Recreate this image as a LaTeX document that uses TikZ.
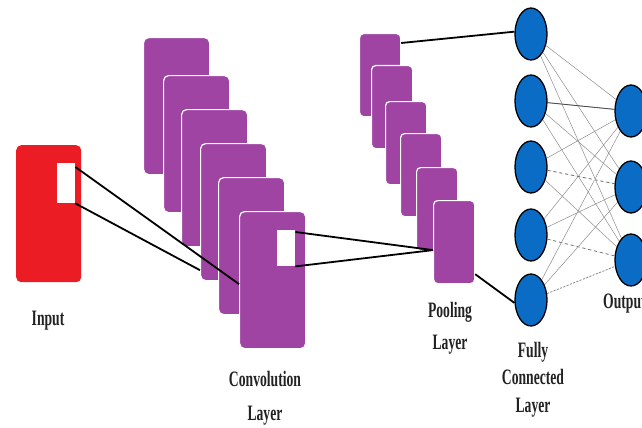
\documentclass[tikz,border=0pt]{standalone}
\usepackage{fontspec}
\setmainfont{Liberation Serif}
\usetikzlibrary{shapes.geometric,calc,backgrounds}
\definecolor{cnnred}{HTML}{EC1C24}
\definecolor{cnnpurple}{HTML}{A044A4}
\definecolor{cnnblue}{HTML}{0A6CC4}
\definecolor{txtgray}{HTML}{222222}
\newcommand\narrowtxt[1]{\scalebox{0.62}[1]{#1}}
\begin{document}
\begin{tikzpicture}[x=1pt,y=-1pt,
  convbox/.style={rectangle, rounded corners=5pt, fill=cnnpurple, draw=white, line width=1.2pt,
    minimum width=66pt, minimum height=137pt, inner sep=0pt, anchor=north west},
  poolbox/.style={rectangle, rounded corners=4pt, fill=cnnpurple, draw=white, line width=1.2pt,
    minimum width=41pt, minimum height=83pt, inner sep=0pt, anchor=north west},
  winbox/.style={rectangle, fill=white, inner sep=0pt, anchor=north west},
  neuron/.style={ellipse, fill=cnnblue, draw=black, line width=1.3pt, minimum width=32pt, minimum height=52pt, inner sep=0pt},
  thick link/.style={draw=black, line width=1.8pt},
  fclink/.style={draw=black!45, line width=0.5pt},
  lbl/.style={font=\fontsize{22}{26}\selectfont\bfseries, text=txtgray, inner sep=0pt, align=center}
]
\useasboundingbox (0,0) rectangle (642,428);

% input
\node[rectangle, rounded corners=5pt, fill=cnnred, minimum width=65pt, minimum height=137pt,
  inner sep=0pt, anchor=north west] (input) at (16,145) {};
\node[winbox, minimum width=18pt, minimum height=40pt] (inwin) at (57,163) {};

% convolution layers
\node[convbox] (conv1) at (143,37) {};
\node[convbox] (conv2) at (163,75) {};
\node[convbox] (conv3) at (181,109) {};
\node[convbox] (conv4) at (200,143) {};
\node[convbox] (conv5) at (218,177) {};
\node[convbox] (conv6) at (239,211) {};
\node[winbox, minimum width=18pt, minimum height=36pt] (convwin) at (277,230) {};

% pooling layers
\node[poolbox] (pool1) at (359,33) {};
\node[poolbox] (pool2) at (371,65) {};
\node[poolbox] (pool3) at (385,101) {};
\node[poolbox] (pool4) at (400,133) {};
\node[poolbox] (pool5) at (416,167) {};
\node[poolbox] (pool6) at (433,200) {};

% neurons
\node[neuron] (fc1) at (531,34) {};
\node[neuron] (fc2) at (531,101) {};
\node[neuron] (fc3) at (531,167) {};
\node[neuron] (fc4) at (531,235) {};
\node[neuron] (fc5) at (531,300) {};
\node[neuron] (out1) at (631,111) {};
\node[neuron] (out2) at (631,187) {};
\node[neuron] (out3) at (631,260) {};

% fully connected links (behind the neurons)
\begin{pgfonlayer}{background}
\foreach \i in {1,...,5}{
  \foreach \j in {1,2,3}{
    \path[fclink] (fc\i) -- (out\j);
  }
}
\path[draw=black!70, line width=0.8pt] (fc2) -- (out1);
\path[draw=white, line width=1pt] (fc3) -- (out2);
\path[draw=black!60, line width=0.7pt, dashed] (fc3) -- (out2);
\path[draw=white, line width=1pt] (fc4) -- (out3);
\path[draw=black!60, line width=0.7pt, dashed] (fc4) -- (out3);
\path[draw=white, line width=1pt] (fc5) -- (out3);
\path[draw=black!55, line width=0.6pt, dash pattern=on 2pt off 1.5pt] (fc5) -- (out3);
\end{pgfonlayer}

% black connectors
\coordinate (c6in) at ([yshift=-4pt]conv6.west);
\coordinate (c4in) at ([yshift=11pt]conv4.south west);
\coordinate (p6in) at ([yshift=-8pt]pool6.west);
\coordinate (p1out) at ([yshift=-10pt]pool1.north east);
\coordinate (p6out) at ([yshift=10pt]pool6.south east);
\draw[thick link] ([yshift=-4pt]inwin.north east) -- (c6in);
\draw[thick link] (inwin.south east) -- (c4in);
\draw[thick link] ([yshift=-2pt]convwin.north east) -- (p6in);
\draw[thick link] (convwin.south east) -- (p6in);
\draw[thick link] (p1out) -- (fc1.172);
\draw[thick link] (p6out) -- (fc5.190);

% labels
\node[lbl, anchor=base] (linput) at (48,325) {\narrowtxt{Input}};
\node[lbl, anchor=north, font=\fontsize{22}{34}\selectfont\bfseries] (lconv) at (265,371)
  {\narrowtxt{Convolution}\\\narrowtxt{Layer}};
\node[lbl, anchor=north, font=\fontsize{22}{32}\selectfont\bfseries] (lpool) at (450,302)
  {\narrowtxt{Pooling}\\\narrowtxt{Layer}};
\node[lbl, anchor=north, font=\fontsize{22}{27.5}\selectfont\bfseries] (lfc) at (533,342)
  {\narrowtxt{Fully}\\\narrowtxt{Connected}\\\narrowtxt{Layer}};
\node[lbl, anchor=north west] (lout) at (603,294) {\narrowtxt{Output}};
\end{tikzpicture}
\end{document}
